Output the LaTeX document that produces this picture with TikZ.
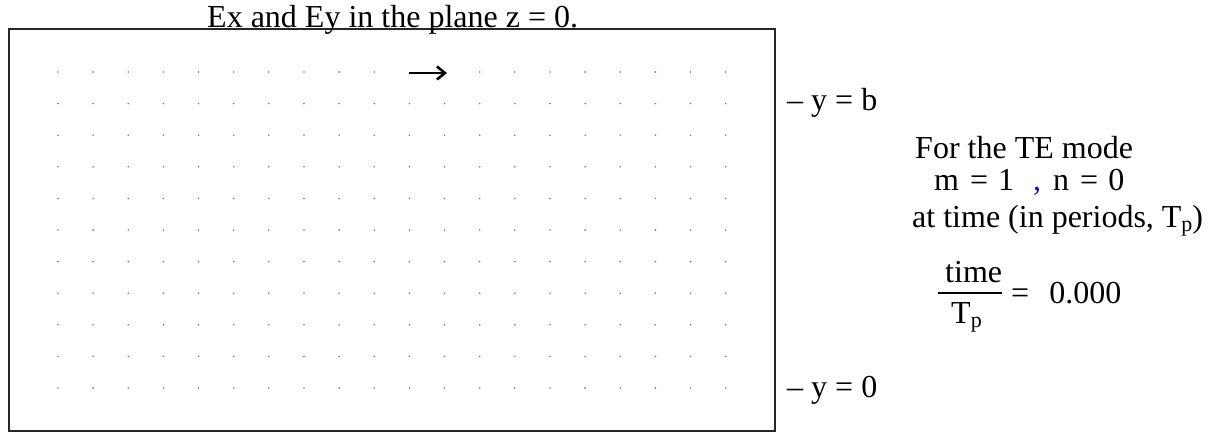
\documentclass[tikz,border=0pt]{standalone}
\usepackage{fontspec}
\setmainfont{Liberation Serif}
\usetikzlibrary{arrows.meta}
\definecolor{dotgray}{RGB}{120,120,120}
\definecolor{commablue}{RGB}{20,20,170}
\newcommand{\bigtxt}{\fontsize{32}{36}\selectfont}
\newcommand{\subp}{\raisebox{-0.32ex}{\fontsize{22}{22}\selectfont p}}
\tikzset{
  lbl/.style={inner sep=0pt, anchor=base west, font=\bigtxt},
  frame/.style={draw=black!85, line width=2.6pt},
  fielddot/.style={fill=dotgray, draw=none, circle, inner sep=0pt, minimum size=1.8pt},
  fieldarrow/.style={line width=2.6pt, -{Straight Barb[length=8pt,width=13pt,line width=2.6pt]}}
}
\begin{document}
\begin{tikzpicture}[x=1pt,y=-1pt]
\useasboundingbox (0,0) rectangle (1215,433);
% frame
\draw[frame] (9,29) rectangle (775,431);
% grid of field points
\foreach \i in {0,...,19}{
  \foreach \j in {0,...,10}{
    \pgfmathsetmacro{\skip}{(\j==0 && (\i==10 || \i==11)) ? 1 : 0}
    \ifnum\skip=0\relax
      \node[fielddot] at ({58+35.14*\i},{72+31.6*\j}) {};
    \fi
  }
}
\coordinate (a0) at (409,73);
\coordinate (a1) at (447,73);
\draw[fieldarrow] (a0) -- (a1);
% title
\node[lbl] (title) at (207,28) {Ex and Ey in the plane z = 0.};
% side labels
\node[lbl] (yb) at (787,111) {– y = b};
\node[lbl] (y0) at (787,397) {– y = 0};
% mode info
\node[lbl] (te) at (915,158) {For the TE mode};
\node[lbl] (m1) at (934,190) {m\hspace{3pt} = \hspace{2pt}1};
\node[lbl, text=commablue] (comma) at (1033,190) {,};
\node[lbl] (n0) at (1053,190) {n\hspace{3pt} = \hspace{2pt}0};
\node[lbl] (at) at (912,227) {at time (in periods, T\subp)};
% fraction
\node[lbl] (num) at (945,282) {time};
\coordinate (bl) at (938,293);
\coordinate (br) at (1002,293);
\draw[line width=1.6pt] (bl) -- (br);
\node[lbl] (den) at (951,323) {T\subp};
\node[lbl] (val) at (1011,303) {=\hspace{12pt} 0.000};
\end{tikzpicture}
\end{document}
